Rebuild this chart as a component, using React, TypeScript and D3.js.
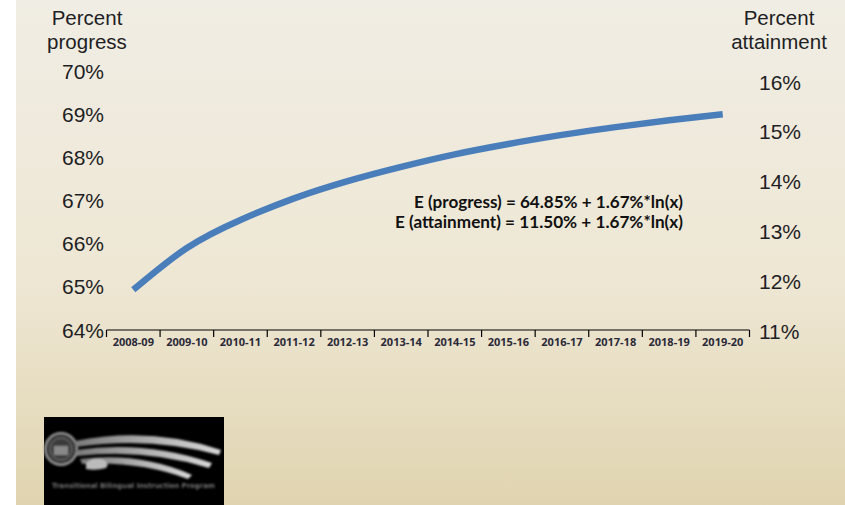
import React from "react";
import * as d3 from "d3";

const categories = [
  "2008-09", "2009-10", "2010-11", "2011-12", "2012-13", "2013-14",
  "2014-15", "2015-16", "2016-17", "2017-18", "2018-19", "2019-20",
];
const progressValues = [64.93, 65.9, 66.55, 67.05, 67.45, 67.78, 68.07, 68.31, 68.52, 68.7, 68.86, 69.0];
const leftTicks = [64, 65, 66, 67, 68, 69, 70];
const rightTicks = [11, 12, 13, 14, 15, 16];
const leftTitle = ["Percent", "progress"];
const rightTitle = ["Percent", "attainment"];
const equations = [
  "E (progress) = 64.85% + 1.67%*ln(x)",
  "E (attainment) = 11.50% + 1.67%*ln(x)",
];
const equationWidths = [269, 288];
const logoText = "Transitional Bilingual Instruction Program";

const W = 845;
const H = 505;

export default function App() {
  const x = d3.scaleBand<string>().domain(categories).range([106.5, 749.5]);
  const yL = d3.scaleLinear().domain([64, 70]).range([330, 71]);
  const yR = d3.scaleLinear().domain([11, 16]).range([331, 82]);
  const bw = x.bandwidth();

  const line = d3
    .line<number>()
    .x((_, i) => (x(categories[i]) as number) + bw / 2)
    .y((d) => yL(d))
    .curve(d3.curveNatural);

  const axisFont = "'Liberation Sans', Arial, sans-serif";
  const textColor = "#1e1e24";

  return (
    <svg
      width={W}
      height={H}
      style={{ position: "absolute", left: 0, top: 0, display: "block" }}
    >
      <defs>
        <linearGradient id="bg" x1="0" y1="0" x2="0" y2="1">
          <stop offset="0" stopColor="#f0ede4" />
          <stop offset="0.55" stopColor="#eee7d4" />
          <stop offset="1" stopColor="#e0d4b0" />
        </linearGradient>
        <linearGradient id="swoosh" x1="0" y1="0" x2="1" y2="0">
          <stop offset="0" stopColor="#7a7a7a" />
          <stop offset="0.6" stopColor="#b8b8b8" />
          <stop offset="1" stopColor="#d8d8d8" />
        </linearGradient>
        <filter id="blur1" x="-10%" y="-10%" width="120%" height="120%">
          <feGaussianBlur stdDeviation="0.8" />
        </filter>
      </defs>
      <rect x={0} y={0} width={W} height={H} fill="#ffffff" />
      <rect x={16} y={0} width={W - 16} height={H} fill="url(#bg)" />

      {/* left axis title */}
      {leftTitle.map((t, i) => (
        <text key={t} x={87} y={25 + i * 24} textAnchor="middle" fontFamily={axisFont} fontSize={20.5} fill={textColor}>
          {t}
        </text>
      ))}
      {/* right axis title */}
      {rightTitle.map((t, i) => (
        <text key={t} x={779} y={25 + i * 24} textAnchor="middle" fontFamily={axisFont} fontSize={20.5} fill={textColor}>
          {t}
        </text>
      ))}

      {/* left tick labels */}
      {leftTicks.map((v) => (
        <text key={v} x={104} y={yL(v) + 7.5} textAnchor="end" fontFamily={axisFont} fontSize={21} fill={textColor}>
          {v}%
        </text>
      ))}
      {/* right tick labels */}
      {rightTicks.map((v) => (
        <text key={v} x={759} y={yR(v) + 7.5} textAnchor="start" fontFamily={axisFont} fontSize={21} fill={textColor}>
          {v}%
        </text>
      ))}

      {/* x axis */}
      <line x1={106.5} x2={749.5} y1={330} y2={330} stroke="#000" strokeWidth={1.2} />
      {[...categories.map((c) => x(c) as number), 749.5].map((px, i) => (
        <line key={i} x1={px} x2={px} y1={330} y2={337} stroke="#000" strokeWidth={1.2} />
      ))}
      {categories.map((c) => (
        <text
          key={c}
          x={(x(c) as number) + bw / 2}
          y={345.5}
          textAnchor="middle"
          fontFamily="'Open Sans', sans-serif"
          fontWeight="bold"
          fontSize={11}
          fill="#2a2a38"
        >
          {c}
        </text>
      ))}

      {/* data line */}
      <path d={line(progressValues) || ""} fill="none" stroke="#4a7ebb" strokeWidth={6.5} />

      {/* equations */}
      {equations.map((e, i) => (
        <text
          key={e}
          x={683}
          y={208 + i * 20}
          textAnchor="end"
          fontFamily="Lato, 'Open Sans', sans-serif"
          fontWeight="bold"
          fontSize={17}
          fill="#111"
          textLength={equationWidths[i]}
          lengthAdjust="spacingAndGlyphs"
        >
          {e}
        </text>
      ))}

      {/* logo */}
      <g>
        <rect x={44} y={417} width={180} height={88} fill="#000" />
        <g filter="url(#blur1)">
          <circle cx={61} cy={449} r={16} fill="#3a3a3a" stroke="#9a9a9a" strokeWidth={2} />
          <circle cx={61} cy={449} r={11} fill="none" stroke="#777" strokeWidth={1} />
          <rect x={54} y={446} width={14} height={9} fill="#888" />
          <path d="M75,441 Q150,426 221,450 L219,455 Q150,436 76,447 Z" fill="url(#swoosh)" />
          <path d="M76,450 Q145,440 212,463 L209,468 Q145,448 77,456 Z" fill="url(#swoosh)" />
          <path d="M80,459 Q140,452 192,475 L188,479 Q140,461 82,464 Z" fill="url(#swoosh)" />
          <path d="M86,463 Q95,456 104,460 Q110,464 106,468 Q96,471 86,469 Z" fill="#bbb" />
          <text
            x={52}
            y={488}
            fontFamily="'DejaVu Sans', sans-serif"
            fontWeight="bold"
            fontSize={7}
            fill="#777"
            textLength={163}
            lengthAdjust="spacingAndGlyphs"
          >
            {logoText}
          </text>
        </g>
      </g>
    </svg>
  );
}
